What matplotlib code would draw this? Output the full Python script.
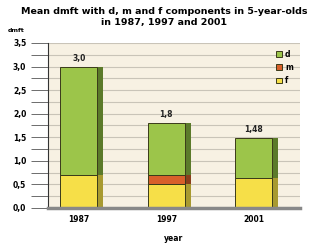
import matplotlib
matplotlib.use("Agg")
import matplotlib.pyplot as plt
import numpy as np
from matplotlib.ticker import MultipleLocator, FuncFormatter

years = ["1987", "1997", "2001"]
f_vals = [0.70, 0.50, 0.64]
m_vals = [0.00, 0.20, 0.00]
d_vals = [2.30, 1.10, 0.84]
totals_lbl = ["3,0", "1,8", "1,48"]

c_d, c_m, c_f = "#9cc54a", "#d8602a", "#f6df48"
side_d, side_m, side_f = "#5b7a2a", "#8a3e1c", "#a89a30"

fig = plt.figure(figsize=(3.09, 2.44), dpi=100)
fig.patch.set_facecolor("white")
ax = fig.add_axes([0.155, 0.148, 0.815, 0.676])
ax.set_facecolor("#f7f1e3")

x = np.arange(len(years))
w = 0.42
sw = 0.07
f_arr = np.array(f_vals); m_arr = np.array(m_vals); d_arr = np.array(d_vals)

ax.set_axisbelow(True)
ax.yaxis.set_major_locator(MultipleLocator(0.5))
ax.yaxis.set_minor_locator(MultipleLocator(0.25))
ax.grid(axis="y", which="both", color="#c9c4b8", linewidth=0.8)

# side shading (3D look)
ax.bar(x + w/2 + sw/2, f_arr, sw, color=side_f, edgecolor="none")
ax.bar(x + w/2 + sw/2, m_arr, sw, bottom=f_arr, color=side_m, edgecolor="none")
ax.bar(x + w/2 + sw/2, d_arr, sw, bottom=f_arr + m_arr, color=side_d, edgecolor="none")

ax.bar(x, f_arr, w, color=c_f, edgecolor="#3a3a1a", linewidth=0.7, label="f")
ax.bar(x, m_arr, w, bottom=f_arr, color=c_m, edgecolor="#3a3a1a", linewidth=0.7, label="m")
ax.bar(x, d_arr, w, bottom=f_arr + m_arr, color=c_d, edgecolor="#3a3a1a", linewidth=0.7, label="d")

tot = f_arr + m_arr + d_arr
for xi, t, lb in zip(x, tot, totals_lbl):
    ax.text(xi, t + 0.08, lb, ha="center", va="bottom", fontsize=5.5, fontweight="bold", color="#222222")

ax.set_xlim(-0.354, 2.526)
ax.set_ylim(0, 3.5)
ax.set_xticks(x)
ax.set_xticklabels(years, fontsize=5.5, fontweight="bold")
ax.yaxis.set_major_formatter(FuncFormatter(lambda v, p: f"{v:.1f}".replace(".", ",")))
ax.tick_params(axis="y", which="major", labelsize=5.5, length=12, width=0.6, color="#555555")
ax.tick_params(axis="y", which="minor", length=12, width=0.6, color="#555555")
for lbl in ax.get_yticklabels():
    lbl.set_fontweight("bold")
ax.tick_params(axis="x", length=0, pad=5)
for s in ["top", "right"]:
    ax.spines[s].set_visible(False)
ax.spines["left"].set_color("#333333")
ax.spines["bottom"].set_color("#888888")
ax.spines["bottom"].set_linewidth(2.5)

ax.set_xlabel("year", fontsize=5.5, fontweight="bold", labelpad=7)

handles, labels = ax.get_legend_handles_labels()
leg = ax.legend(handles[::-1], labels[::-1], loc="upper right", bbox_to_anchor=(1.0, 1.0),
                fontsize=5.5, frameon=False, handlelength=0.8, handleheight=0.8,
                labelspacing=0.55, handletextpad=0.4)
for t in leg.get_texts():
    t.set_fontweight("bold")

fig.text(0.53, 0.97, "Mean dmft with d, m and f components in 5-year-olds\nin 1987, 1997 and 2001",
         ha="center", va="top", fontsize=6.8, fontweight="bold", linespacing=1.2)
fig.text(0.025, 0.875, "dmft", fontsize=4.5, fontweight="bold", ha="left", va="center")

fig.savefig("out.png", dpi=100)
